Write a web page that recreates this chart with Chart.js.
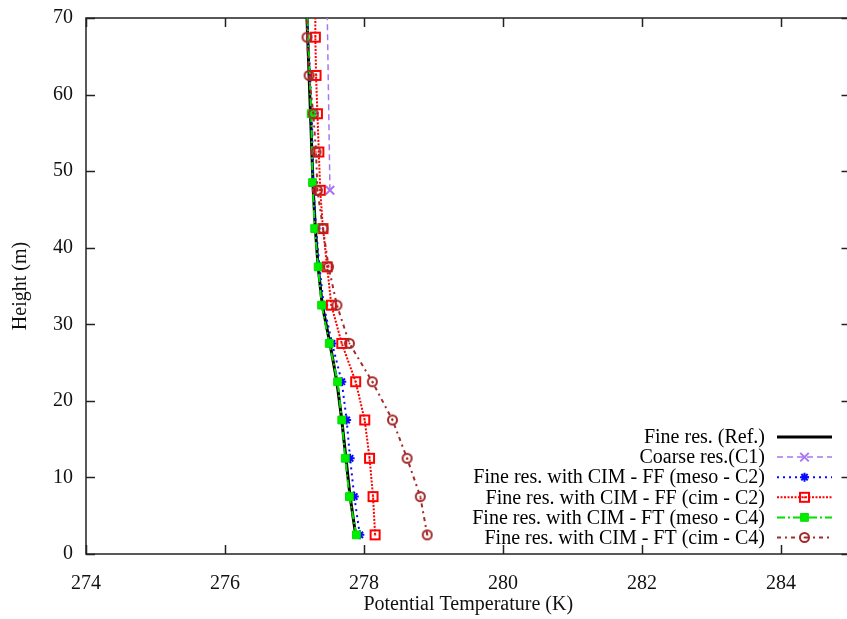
<!DOCTYPE html>
<html>
<head>
<meta charset="utf-8">
<script src="https://cdn.jsdelivr.net/npm/chart.js@4.4.1/dist/chart.umd.min.js"></script>
<style>
  html, body { margin: 0; padding: 0; background: #fff; overflow: hidden; }
  canvas { display: block; }
</style>
</head>
<body>
<canvas id="profile" width="852" height="619"></canvas>
<script>
// vertical levels (m) of the fine grid, mesoscale grid and coarse grid
const levels = [2.5, 7.5, 12.5, 17.5, 22.5, 27.5, 32.5, 37.5, 42.5, 47.5, 52.5, 57.5, 62.5, 67.5, 72.5];
const mesoLevels = [2.5, 7.5, 12.5, 17.5, 22.5, 27.5, 32.5, 37.5, 42.5, 48.5, 57.5, 71];
const coarseLevels = [47.5, 142.5];

// potential temperature (K)
const thetaRef    = [277.88, 277.80, 277.74, 277.68, 277.61, 277.51, 277.40, 277.34, 277.30, 277.27, 277.25, 277.23, 277.21, 277.19, 277.17];
const thetaCoarse = [277.51, 277.35];
const thetaMesoFF = [277.94, 277.86, 277.80, 277.75, 277.68, 277.54, 277.42, 277.36, 277.31, 277.27, 277.25, 277.18];
const thetaCimFF  = [278.16, 278.13, 278.08, 278.01, 277.88, 277.68, 277.53, 277.47, 277.41, 277.37, 277.35, 277.33, 277.31, 277.30, 277.30];
const thetaMesoFT = [277.89, 277.79, 277.73, 277.68, 277.62, 277.50, 277.39, 277.34, 277.29, 277.26, 277.24, 277.18];
const thetaCimFT  = [278.91, 278.81, 278.62, 278.41, 278.12, 277.79, 277.61, 277.49, 277.41, 277.33, 277.31, 277.27, 277.21, 277.18, 277.17];

const seriesNames = [
  'Fine res. (Ref.)',
  'Coarse res.(C1)',
  'Fine res. with CIM - FF (meso - C2)',
  'Fine res. with CIM - FF (cim - C2)',
  'Fine res. with CIM - FT (meso - C4)',
  'Fine res. with CIM - FT (cim - C4)'
];

const xTicks = [274, 276, 278, 280, 282, 284];
const yTicks = [0, 10, 20, 30, 40, 50, 60, 70];

const SERIF = '"Liberation Serif", "DejaVu Serif", serif';
const FONT_SIZE = 20;

const profile = (xs, hs) => xs.map((t, i) => ({ x: t, y: hs[i] }));

// open marker with a centre dot, as an image point style
function openMarker(shape, color, size) {
  const c = document.createElement('canvas');
  c.width = size + 4;
  c.height = size + 4;
  const g = c.getContext('2d');
  const m = c.width / 2;
  g.strokeStyle = color;
  g.fillStyle = color;
  g.lineWidth = 2;
  g.beginPath();
  if (shape === 'square') {
    g.rect(m - size / 2, m - size / 2, size, size);
  } else {
    g.arc(m, m, size / 2, 0, Math.PI * 2);
  }
  g.stroke();
  g.beginPath();
  g.arc(m, m, 1, 0, Math.PI * 2);
  g.fill();
  return c;
}

const redSquare = openMarker('square', '#ff0000', 9);
const brownCircle = openMarker('circle', '#a52a2a', 9);

const datasets = [
  {
    label: seriesNames[0], data: profile(thetaRef, levels),
    borderColor: '#000000', borderWidth: 3, pointRadius: 0, order: 6
  },
  {
    label: seriesNames[1], data: profile(thetaCoarse, coarseLevels),
    borderColor: '#a877f0', borderWidth: 1.5, borderDash: [6, 4],
    pointStyle: 'crossRot', pointRadius: 6, pointBorderWidth: 2, pointBorderColor: '#a877f0', order: 5
  },
  {
    label: seriesNames[2], data: profile(thetaMesoFF, mesoLevels),
    borderColor: '#0a0aff', borderWidth: 2, borderDash: [2, 4],
    pointStyle: 'star', pointRadius: 4.5, pointBorderWidth: 2, pointBorderColor: '#0a0aff', order: 4
  },
  {
    label: seriesNames[3], data: profile(thetaCimFF, levels),
    borderColor: '#ff0000', borderWidth: 2, borderDash: [2, 1.5],
    pointStyle: redSquare, order: 3
  },
  {
    label: seriesNames[4], data: profile(thetaMesoFT, mesoLevels),
    borderColor: '#00e000', borderWidth: 2, borderDash: [8, 3, 2, 3],
    pointStyle: 'rect', pointRadius: 5.5, pointBorderWidth: 1,
    pointBackgroundColor: '#00ee00', pointBorderColor: '#00e000', order: 2
  },
  {
    label: seriesNames[5], data: profile(thetaCimFT, levels),
    borderColor: '#a52a2a', borderWidth: 2, borderDash: [4, 4, 2, 4],
    pointStyle: brownCircle, order: 1
  }
];

// border box with inward ticks on all four sides
const frameTicks = {
  id: 'frameTicks',
  beforeDatasetsDraw(chart) {
    const { ctx, chartArea: a, scales: { x, y } } = chart;
    const len = 9;
    ctx.save();
    ctx.strokeStyle = '#222';
    ctx.lineWidth = 1.5;
    ctx.strokeRect(a.left, a.top, a.right - a.left, a.bottom - a.top);
    ctx.beginPath();
    xTicks.forEach(v => {
      const px = Math.round(x.getPixelForValue(v)) + 0.5;
      ctx.moveTo(px, a.bottom); ctx.lineTo(px, a.bottom - len);
      ctx.moveTo(px, a.top); ctx.lineTo(px, a.top + len);
    });
    yTicks.forEach(v => {
      const py = Math.round(y.getPixelForValue(v)) + 0.5;
      ctx.moveTo(a.left, py); ctx.lineTo(a.left + len, py);
      ctx.moveTo(a.right, py); ctx.lineTo(a.right - len, py);
    });
    ctx.stroke();
    ctx.restore();
  }
};

// key in the lower right corner: right-aligned text, line sample after it
const sideKey = {
  id: 'sideKey',
  afterDraw(chart) {
    const { ctx } = chart;
    const textRight = 765, x0 = 777, x1 = 832, top = 437, step = 20.1;
    ctx.save();
    ctx.font = FONT_SIZE + 'px ' + SERIF;
    ctx.textAlign = 'right';
    ctx.textBaseline = 'middle';
    chart.data.datasets.forEach((ds, i) => {
      const yy = top + i * step;
      ctx.fillStyle = '#000';
      ctx.fillText(ds.label, textRight, yy + 1);
      ctx.strokeStyle = ds.borderColor;
      ctx.lineWidth = ds.borderWidth;
      ctx.setLineDash(ds.borderDash || []);
      ctx.beginPath();
      ctx.moveTo(x0, yy); ctx.lineTo(x1, yy);
      ctx.stroke();
      ctx.setLineDash([]);
      if (ds.pointStyle) {
        ctx.fillStyle = ds.pointBackgroundColor || ds.borderColor;
        ctx.strokeStyle = ds.pointBorderColor || ds.borderColor;
        ctx.lineWidth = ds.pointBorderWidth || 1;
        Chart.helpers.drawPoint(ctx, {
          pointStyle: ds.pointStyle,
          radius: ds.pointRadius || 5,
          rotation: 0,
          borderWidth: ds.pointBorderWidth || 1
        }, (x0 + x1) / 2, yy);
      }
    });
    ctx.restore();
  }
};

new Chart(document.getElementById('profile'), {
  type: 'scatter',
  data: { datasets: datasets.map(d => Object.assign({ showLine: true, tension: 0, fill: false }, d)) },
  options: {
    responsive: false,
    animation: false,
    layout: { autoPadding: false, padding: { top: 18, right: 1.5, left: 0, bottom: 0 } },
    plugins: { legend: { display: false }, tooltip: { enabled: false } },
    scales: {
      x: {
        type: 'linear', min: 274, max: 285,
        afterBuildTicks: s => { s.ticks = xTicks.map(v => ({ value: v })); },
        afterFit: s => { s.height = 65; s.paddingLeft = 0; s.paddingRight = 0; },
        grid: { display: false, drawTicks: false },
        border: { display: false },
        ticks: { color: '#111', font: { family: SERIF, size: FONT_SIZE }, padding: 18, maxRotation: 0 },
        title: { display: true, text: 'Potential Temperature (K)', color: '#111',
                 font: { family: SERIF, size: FONT_SIZE }, padding: { top: 0, bottom: 2 } }
      },
      y: {
        type: 'linear', min: 0, max: 70,
        afterBuildTicks: s => { s.ticks = yTicks.map(v => ({ value: v })); },
        afterFit: s => { s.width = 86; s.paddingTop = 0; s.paddingBottom = 0; },
        grid: { display: false, drawTicks: false },
        border: { display: false },
        ticks: { color: '#111', font: { family: SERIF, size: FONT_SIZE }, padding: 13 },
        title: { display: true, text: 'Height (m)', color: '#111',
                 font: { family: SERIF, size: FONT_SIZE }, padding: { top: 9, bottom: 0 } }
      }
    }
  },
  plugins: [frameTicks, sideKey]
});
</script>
</body>
</html>
